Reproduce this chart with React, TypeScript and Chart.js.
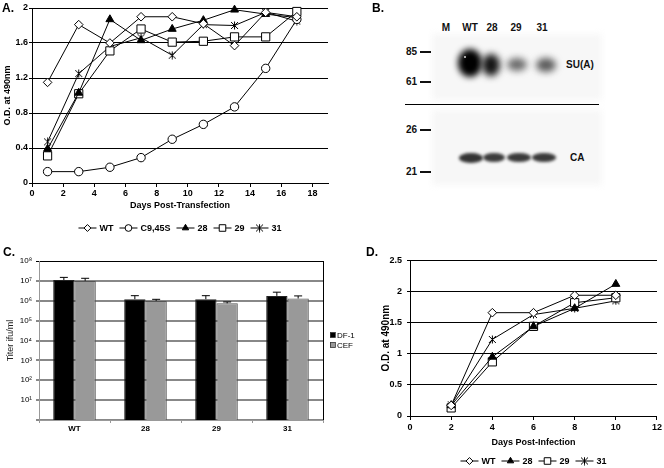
import React, { useEffect, useRef } from 'react';
import { Chart, registerables } from 'chart.js';
import { drawPoint } from 'chart.js/helpers';

Chart.register(...registerables);

// ---------- Panel A data ----------
const daysA = [1, 3, 5, 7, 9, 11, 13, 15, 17];
const wtA = [1.15, 1.81, 1.6, 1.9, 1.9, 1.82, 1.57, 1.95, 1.9];
const c945sA = [0.13, 0.13, 0.18, 0.29, 0.5, 0.67, 0.87, 1.31, 1.87];
const m28A = [0.39, 1.03, 1.87, 1.63, 1.76, 1.86, 1.98, 1.93, 1.89];
const m29A = [0.31, 1.02, 1.51, 1.76, 1.61, 1.62, 1.67, 1.67, 1.96];
const m31A = [0.47, 1.25, 1.56, 1.66, 1.46, 1.81, 1.8, 1.95, 1.85];
const xTicksA = [0, 2, 4, 6, 8, 10, 12, 14, 16, 18];
const yTicksA = [0, 0.4, 0.8, 1.2, 1.6, 2];
const yTickLabelsA = ['0', '0.4', '0.8', '1.2', '1.6', '2'];

// ---------- Panel C data ----------
const virusC = ['WT', '28', '29', '31'];
const df1C = [1.1e7, 1.2e6, 1.2e6, 1.75e6];
const df1ErrC = [1.5e7, 1.8e6, 1.8e6, 2.7e6];
const cefC = [1.0e7, 9.8e5, 7.4e5, 1.3e6];
const cefErrC = [1.35e7, 1.18e6, 8.7e5, 1.75e6];
const yTicksC = [1, 1e1, 1e2, 1e3, 1e4, 1e5, 1e6, 1e7, 1e8];
const yTickLabelsC = ['', '10¹', '10²', '10³', '10⁴', '10⁵', '10⁶', '10⁷', '10⁸'];

// ---------- Panel D data ----------
const daysD = [2, 4, 6, 8, 10];
const wtD = [0.17, 1.66, 1.66, 1.94, 1.94];
const m28D = [0.17, 0.95, 1.44, 1.73, 2.12];
const m29D = [0.13, 0.87, 1.44, 1.82, 1.9];
const m31D = [0.18, 1.23, 1.63, 1.73, 1.85];
const xTicksD = [0, 2, 4, 6, 8, 10, 12];
const yTicksD = [0, 0.5, 1, 1.5, 2, 2.5];
const yTickLabelsD = ['0', '0.5', '1', '1.5', '2', '2.5'];

// ---------- Panel B labels ----------
const lanesB = ['M', 'WT', '28', '29', '31'];
const markersB = ['85', '61', '26', '21'];

const FONT = '"Liberation Sans", Arial, Helvetica, sans-serif';

function makeStar(): HTMLCanvasElement {
  const c = document.createElement('canvas');
  c.width = 9;
  c.height = 9;
  const g = c.getContext('2d')!;
  g.strokeStyle = '#000';
  g.lineWidth = 1;
  g.beginPath();
  g.moveTo(1, 1); g.lineTo(8, 8);
  g.moveTo(8, 1); g.lineTo(1, 8);
  g.moveTo(4.5, 0.5); g.lineTo(4.5, 8.5);
  g.stroke();
  return c;
}

const excelLegend = {
  id: 'excelLegend',
  afterDraw(chart: any, _args: any, opts: any) {
    if (!opts || !opts.y) return;
    const ctx = chart.ctx;
    const ca = chart.chartArea;
    ctx.save();
    ctx.font = opts.font;
    const lineLen = 18;
    const items = chart.data.datasets.map((ds: any) => ({
      ds,
      w: lineLen + 3 + ctx.measureText(ds.label).width,
    }));
    const gap = 6;
    const total = items.reduce((s: number, it: any) => s + it.w, 0) + gap * (items.length - 1);
    let x = (ca.left + ca.right) / 2 - total / 2;
    const y = opts.y;
    items.forEach((it: any) => {
      const ds = it.ds;
      ctx.strokeStyle = '#000';
      ctx.lineWidth = 1;
      ctx.beginPath();
      ctx.moveTo(x, y);
      ctx.lineTo(x + lineLen, y);
      ctx.stroke();
      ctx.fillStyle = ds.pointBackgroundColor;
      ctx.strokeStyle = '#000';
      drawPoint(ctx, { pointStyle: ds.pointStyle, radius: (ds.pointRadius || 4) * 0.8, rotation: 0, borderWidth: 1 }, x + lineLen / 2, y);
      ctx.fillStyle = '#000';
      ctx.textBaseline = 'middle';
      ctx.textAlign = 'left';
      ctx.fillText(ds.label, x + lineLen + 3, y + 0.5);
      x += it.w + gap;
    });
    ctx.restore();
  },
};

const errorBars = {
  id: 'errorBars',
  afterDatasetsDraw(chart: any) {
    const ctx = chart.ctx;
    const yScale = chart.scales.y;
    ctx.save();
    ctx.strokeStyle = '#000';
    ctx.lineWidth = 1;
    chart.data.datasets.forEach((ds: any, i: number) => {
      if (!ds.errTop) return;
      const meta = chart.getDatasetMeta(i);
      meta.data.forEach((bar: any, j: number) => {
        const yt = yScale.getPixelForValue(ds.errTop[j]);
        ctx.beginPath();
        ctx.moveTo(bar.x, bar.y);
        ctx.lineTo(bar.x, yt);
        ctx.moveTo(bar.x - 4, yt);
        ctx.lineTo(bar.x + 4, yt);
        ctx.stroke();
      });
    });
    ctx.restore();
  },
};

const boxLegend = {
  id: 'boxLegend',
  afterDraw(chart: any, _args: any, opts: any) {
    if (!opts || !opts.x) return;
    const ctx = chart.ctx;
    ctx.save();
    ctx.font = opts.font;
    ctx.textBaseline = 'middle';
    chart.data.datasets.forEach((ds: any, i: number) => {
      const y = opts.y + i * 10;
      ctx.fillStyle = ds.backgroundColor;
      ctx.fillRect(opts.x, y - 2.5, 5, 5);
      ctx.strokeStyle = '#333';
      ctx.lineWidth = 0.8;
      ctx.strokeRect(opts.x + 0.5, y - 2.5, 5, 5);
      ctx.fillStyle = '#000';
      ctx.fillText(ds.label, opts.x + 7, y + 0.5);
    });
    ctx.restore();
  },
};

const rightFrame = {
  id: 'rightFrame',
  afterDraw(chart: any, _args: any, opts: any) {
    if (!opts || !opts.on) return;
    const ctx = chart.ctx;
    const ca = chart.chartArea;
    ctx.save();
    ctx.strokeStyle = '#000';
    ctx.lineWidth = 1;
    ctx.beginPath();
    ctx.moveTo(ca.right + 0.5, ca.top);
    ctx.lineTo(ca.right + 0.5, ca.bottom);
    ctx.stroke();
    ctx.restore();
  },
};

function pts(xs: number[], ys: number[]) {
  return xs.map((x, i) => ({ x, y: ys[i] }));
}

function lineDs(label: string, data: any, style: any, radius: number, fill: string) {
  return {
    label,
    data,
    borderColor: '#000',
    borderWidth: 1,
    pointStyle: style,
    pointRadius: radius,
    pointBackgroundColor: fill,
    pointBorderColor: '#000',
    pointBorderWidth: 1,
    tension: 0,
    clip: false,
  };
}

function useChart(ref: any, cfg: () => any) {
  useEffect(() => {
    const chart = new Chart(ref.current, cfg());
    return () => chart.destroy();
  }, []);
}

function PanelA() {
  const ref = useRef<HTMLCanvasElement>(null);
  useChart(ref, () => {
    const star = makeStar();
    const f9 = { family: FONT, size: 9, weight: 'bold' as const };
    return {
      type: 'line',
      data: {
        datasets: [
          lineDs('WT', pts(daysA, wtA), 'rectRot', 4.3, '#fff'),
          lineDs('C9,45S', pts(daysA, c945sA), 'circle', 4.2, '#fff'),
          lineDs('28', pts(daysA, m28A), 'triangle', 4.6, '#000'),
          lineDs('29', pts(daysA, m29A), 'rect', 5.8, '#fff'),
          lineDs('31', pts(daysA, m31A), star, 4.5, '#000'),
        ],
      },
      options: {
        animation: false,
        responsive: false,
        maintainAspectRatio: false,
        layout: { padding: { top: 8, right: 7, left: 0, bottom: 0 } },
        plugins: {
          legend: { display: false },
          tooltip: { enabled: false },
          excelLegend: { y: 228, font: `bold 9px ${FONT}` },
        },
        scales: {
          x: {
            type: 'linear',
            min: 0,
            max: 19,
            afterBuildTicks: (s: any) => { s.ticks = xTicksA.map((v) => ({ value: v })); },
            ticks: { font: f9, color: '#000', padding: 1, autoSkip: false, maxRotation: 0 },
            grid: { drawOnChartArea: false, color: '#000', tickLength: 4 },
            border: { color: '#000' },
            title: { display: true, text: 'Days Post-Transfection', font: f9, color: '#000', padding: { top: 0, bottom: 29 } },
            afterFit: (s: any) => { s.height = 57; },
          },
          y: {
            min: 0,
            max: 2,
            afterBuildTicks: (s: any) => { s.ticks = yTicksA.map((v) => ({ value: v })); },
            ticks: { font: f9, color: '#000', padding: 1, callback: (_v: any, i: number) => yTickLabelsA[i] },
            grid: { color: '#000', tickLength: 3 },
            border: { color: '#000' },
            title: { display: true, text: 'O.D. at 490nm', font: f9, color: '#000', padding: { top: 2, bottom: 0 } },
            afterFit: (s: any) => { s.width = 32; },
          },
        },
      },
      plugins: [excelLegend],
    };
  });
  return <canvas ref={ref} width={335} height={240} style={{ position: 'absolute', left: 0, top: 0, width: 335, height: 240 }} />;
}

function PanelC() {
  const ref = useRef<HTMLCanvasElement>(null);
  useChart(ref, () => {
    return {
      type: 'bar',
      data: {
        labels: virusC,
        datasets: [
          { label: 'DF-1', data: df1C, errTop: df1ErrC, backgroundColor: '#000', borderColor: '#222', borderWidth: 1, categoryPercentage: 0.6, barPercentage: 1 },
          { label: 'CEF', data: cefC, errTop: cefErrC, backgroundColor: '#999999', borderColor: '#555', borderWidth: 1, categoryPercentage: 0.6, barPercentage: 1 },
        ],
      },
      options: {
        animation: false,
        responsive: false,
        maintainAspectRatio: false,
        layout: { padding: { top: 11, right: 37, left: 0, bottom: 0 } },
        plugins: {
          legend: { display: false },
          tooltip: { enabled: false },
          boxLegend: { x: 330, y: 85, font: `8px ${FONT}` },
          rightFrame: { on: true },
        },
        scales: {
          x: {
            ticks: { font: { family: FONT, size: 8, weight: 'bold' }, color: '#000', padding: 1 },
            grid: { offset: true, drawOnChartArea: false, color: '#999', tickLength: 3 },
            border: { color: '#999' },
            afterFit: (s: any) => { s.height = 48; },
          },
          y: {
            type: 'logarithmic',
            min: 1,
            max: 1e8,
            afterBuildTicks: (s: any) => { s.ticks = yTicksC.map((v) => ({ value: v })); },
            ticks: {
              font: { family: FONT, size: 8 },
              color: '#000',
              padding: 4,
              callback: (_v: any, i: number) => yTickLabelsC[i],
            },
            grid: {
              color: (c: any) => (c.tick && c.tick.value === 1e8 ? '#000' : '#888'),
              lineWidth: (c: any) => (c.tick && c.tick.value === 1e8 ? 1 : 2),
              tickLength: 3,
            },
            border: { color: '#999' },
            title: { display: true, text: 'Titer ifu/ml', font: { family: FONT, size: 9 }, color: '#222', padding: { top: 5, bottom: 0 } },
            afterFit: (s: any) => { s.width = 39; },
          },
        },
      },
      plugins: [errorBars, boxLegend, rightFrame],
    };
  });
  return <canvas ref={ref} width={360} height={218} style={{ position: 'absolute', left: 0, top: 250, width: 360, height: 218 }} />;
}

function PanelD() {
  const ref = useRef<HTMLCanvasElement>(null);
  useChart(ref, () => {
    const star = makeStar();
    const f9 = { family: FONT, size: 9, weight: 'bold' as const };
    const f10 = { family: FONT, size: 10, weight: 'bold' as const };
    return {
      type: 'line',
      data: {
        datasets: [
          lineDs('WT', pts(daysD, wtD), 'rectRot', 4.3, '#fff'),
          lineDs('28', pts(daysD, m28D), 'triangle', 4.6, '#000'),
          lineDs('29', pts(daysD, m29D), 'rect', 5.8, '#fff'),
          lineDs('31', pts(daysD, m31D), star, 4.5, '#000'),
        ],
      },
      options: {
        animation: false,
        responsive: false,
        maintainAspectRatio: false,
        layout: { padding: { top: 8, right: 4, left: 0, bottom: 0 } },
        plugins: {
          legend: { display: false },
          tooltip: { enabled: false },
          excelLegend: { y: 211, font: `bold 9px ${FONT}` },
        },
        scales: {
          x: {
            type: 'linear',
            min: 0,
            max: 12,
            afterBuildTicks: (s: any) => { s.ticks = xTicksD.map((v) => ({ value: v })); },
            ticks: { font: f9, color: '#000', padding: 2, autoSkip: false, maxRotation: 0 },
            grid: { drawOnChartArea: false, color: '#000', tickLength: 4 },
            border: { color: '#000' },
            title: { display: true, text: 'Days Post-Infection', font: f9, color: '#000', padding: { top: 0, bottom: 20 } },
            afterFit: (s: any) => { s.height = 52; },
          },
          y: {
            min: 0,
            max: 2.5,
            afterBuildTicks: (s: any) => { s.ticks = yTicksD.map((v) => ({ value: v })); },
            ticks: { font: f9, color: '#000', padding: 5, callback: (_v: any, i: number) => yTickLabelsD[i] },
            grid: { color: '#000', tickLength: 3 },
            border: { color: '#000' },
            title: { display: true, text: 'O.D. at 490nm', font: f10, color: '#000', padding: { top: 50, bottom: 0 } },
            afterFit: (s: any) => { s.width = 80; },
          },
        },
      },
      plugins: [excelLegend],
    };
  });
  return <canvas ref={ref} width={334} height={218} style={{ position: 'absolute', left: 330, top: 250, width: 334, height: 218 }} />;
}

function Band({ cx, cy, w, h, color, blur }: any) {
  return (
    <div
      style={{
        position: 'absolute',
        left: cx - w / 2,
        top: cy - h / 2,
        width: w,
        height: h,
        borderRadius: '50%',
        background: color,
        filter: `blur(${blur}px)`,
      }}
    />
  );
}

function PanelB() {
  const laneX = [446, 470, 492, 516, 542];
  const markerY = [52, 82, 130, 172];
  const txt: any = { position: 'absolute', fontFamily: FONT, fontWeight: 'bold', fontSize: 10, color: '#111', lineHeight: '12px', whiteSpace: 'nowrap' };
  return (
    <div style={{ position: 'absolute', left: 0, top: 0, width: 664, height: 250 }}>
      <div style={{ position: 'absolute', left: 432, top: 34, width: 170, height: 66, background: '#f7f7f7', filter: 'blur(3px)' }} />
      <div style={{ position: 'absolute', left: 432, top: 110, width: 170, height: 75, background: '#f7f7f7', filter: 'blur(3px)' }} />
      {lanesB.map((l, i) => (
        <div key={l} style={{ ...txt, left: laneX[i] - 15, width: 30, textAlign: 'center', top: 22 }}>{l}</div>
      ))}
      {markersB.map((m, i) => (
        <React.Fragment key={m}>
          <div style={{ ...txt, left: 395, width: 22, textAlign: 'right', top: markerY[i] - 6 }}>{m}</div>
          <div style={{ position: 'absolute', left: 420, top: markerY[i] - 1, width: 11, height: 2, background: '#111' }} />
        </React.Fragment>
      ))}
      <div style={{ position: 'absolute', left: 405, top: 103.5, width: 194, height: 1.5, background: '#000' }} />
      <div style={{ ...txt, left: 566, top: 59 }}>SU(A)</div>
      <div style={{ ...txt, left: 570, top: 152 }}>CA</div>
      {/* SU(A) bands */}
      <Band cx={470} cy={63} w={24} h={28} color="#000" blur={3} />
      <Band cx={491} cy={65} w={18} h={22} color="#151515" blur={3.5} />
      <Band cx={517} cy={64} w={20} h={13} color="#6a6a6a" blur={3.5} />
      <Band cx={546} cy={65} w={20} h={14} color="#5a5a5a" blur={3.5} />
      <div style={{ position: 'absolute', left: 464, top: 56, width: 2, height: 2, borderRadius: 1, background: '#ddd' }} />
      {/* CA bands */}
      <Band cx={471} cy={157.5} w={24} h={10} color="#333" blur={1.5} />
      <Band cx={494} cy={157.5} w={22} h={9} color="#3c3c3c" blur={1.5} />
      <Band cx={518.5} cy={157.5} w={24} h={9} color="#3a3a3a" blur={1.5} />
      <Band cx={544} cy={157.5} w={24} h={9} color="#3a3a3a" blur={1.5} />
    </div>
  );
}

const panelLabel: any = { position: 'absolute', fontFamily: FONT, fontWeight: 'bold', fontSize: 12, color: '#000', lineHeight: '14px' };

export default function App() {
  return (
    <div style={{ position: 'absolute', left: 0, top: 0, width: 664, height: 468, background: '#fff', overflow: 'hidden' }}>
      <PanelB />
      <PanelA />
      <PanelC />
      <PanelD />
      <div style={{ ...panelLabel, left: 2, top: 1 }}>A.</div>
      <div style={{ ...panelLabel, left: 372, top: 1 }}>B.</div>
      <div style={{ ...panelLabel, left: 3, top: 245 }}>C.</div>
      <div style={{ ...panelLabel, left: 366, top: 245 }}>D.</div>
    </div>
  );
}
